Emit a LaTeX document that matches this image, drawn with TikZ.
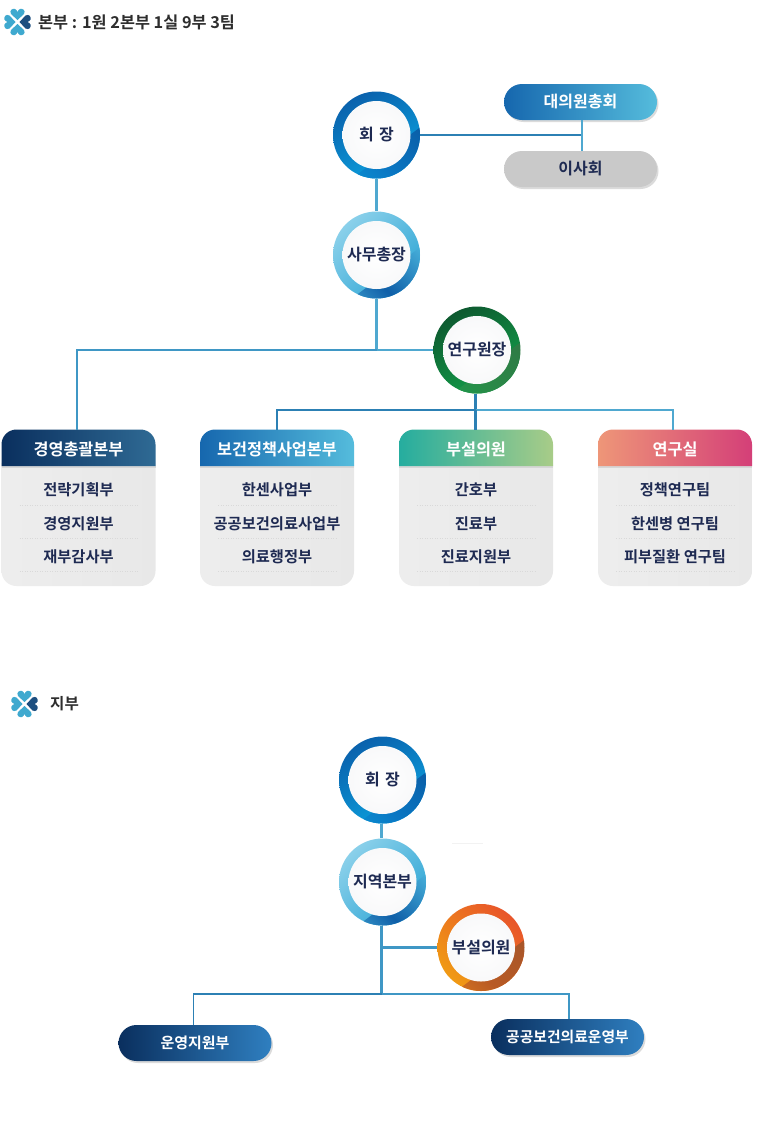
\documentclass[tikz,border=0pt]{standalone}
\usepackage{fontspec}
\setmainfont{Noto Sans CJK KR}
\newfontfamily\krb{Noto Sans CJK KR Bold}
\usetikzlibrary{shadows}
\definecolor{navy}{HTML}{1E2A52}
\definecolor{lnlight}{HTML}{4FA8D0}
\definecolor{lndark}{HTML}{2C80B4}
\definecolor{lnmid}{HTML}{3F97C5}
\definecolor{icl}{HTML}{3FA9CF}
\definecolor{icd}{HTML}{1D4F80}
\definecolor{bA}{HTML}{0A62AD}\definecolor{bB}{HTML}{0BA2DF}\definecolor{bC}{HTML}{0A5FA8}\definecolor{bM}{HTML}{0A78C4}\definecolor{bD}{HTML}{0B9CDA}
\definecolor{sA}{HTML}{8AD0EA}\definecolor{sB}{HTML}{2FA6D5}\definecolor{sC}{HTML}{45ADD8}\definecolor{sM}{HTML}{0F5FA8}\definecolor{sD}{HTML}{50B8DE}
\definecolor{gA}{HTML}{0E5A30}\definecolor{gB}{HTML}{12A04A}\definecolor{gC}{HTML}{2E7A45}\definecolor{gM}{HTML}{2A8A48}\definecolor{gD}{HTML}{12A04A}
\definecolor{oA}{HTML}{F09A14}\definecolor{oB}{HTML}{E8552A}\definecolor{oC}{HTML}{A8562A}\definecolor{oM}{HTML}{B85A24}\definecolor{oD}{HTML}{E8851C}
\definecolor{pA}{HTML}{1667AE}\definecolor{pB}{HTML}{55BCDC}
\definecolor{pG}{HTML}{C9C9C9}
\definecolor{nA}{HTML}{0A2F5E}\definecolor{nB}{HTML}{2F7FC0}\definecolor{nC}{HTML}{2F6A94}
\definecolor{tA}{HTML}{25AD9F}\definecolor{tB}{HTML}{A8CC88}
\definecolor{rA}{HTML}{EE9678}\definecolor{rB}{HTML}{D43F78}
\tikzset{
  x=1pt,y=-1pt,
  ring/.style n args={6}{circle,minimum size=87pt,inner sep=0pt,text=navy,
    font=\krb\fontsize{16}{16}\selectfont,
    path picture={
      \shade[left color=#1,right color=#2,shading angle=#3]
        (path picture bounding box.south west) rectangle (path picture bounding box.north east);
      \shade[left color=#4,right color=#5,middle color=#6,shading angle=315]
        ([xshift=60pt,yshift=20pt]path picture bounding box.center)
        -- ([xshift=60pt,yshift=-70pt]path picture bounding box.center)
        -- ([xshift=-60pt,yshift=-70pt]path picture bounding box.center) -- cycle;
      \shade[inner color=white,outer color=white!97!navy]
        (path picture bounding box.center) circle[radius=34pt];
    }},
  conn/.style={line width=2.1pt},
  pill/.style n args={2}{rounded corners=18pt,minimum width=153pt,minimum height=36pt,inner sep=0pt,
    left color=#1,right color=#2,
    drop shadow={shadow xshift=1.5pt,shadow yshift=-2pt,fill=black,opacity=.14},
    font=\krb\fontsize{16}{16}\selectfont},
  headtxt/.style={font=\krb\fontsize{16.3}{16.3}\selectfont,text=white},
  item/.style={font=\krb\fontsize{15.3}{15.3}\selectfont,text=navy},
  dotln/.style={dotted,line width=.5pt,draw=black!15},
  sect/.style={font=\krb\fontsize{16.3}{16.3}\selectfont,text=black!82,anchor=west,inner sep=0pt},
}
\newcommand{\dept}[9]{%
  \begin{scope}[shift={(#2,0)}]
    \shade[left color=black!7,right color=black!9,rounded corners=15pt] (0,450) rectangle (154,586);
    \fill[black!16] (0,466) rectangle (154,468);
    \shade[left color=#3,right color=#4] (0,466) [rounded corners=15pt] -- (0,429.5) -- (154,429.5) [sharp corners] -- (154,466) -- cycle;
    \node[headtxt] (#1h) at (77,449) {#5};
    \node[item] (#1a) at (77,489.5) {#6};
    \node[item] (#1b) at (77,524) {#7};
    \node[item] (#1c) at (77,556.5) {#8};
    \draw[dotln] (18,505) -- (136,505);
    \draw[dotln] (18,538) -- (136,538);
    \draw[dotln] (18,571) -- (136,571);
    \coordinate (#1t) at (#9,429.5);
  \end{scope}
}
\newcommand{\hearticon}[2]{%
  \begin{scope}[shift={(#1,#2)}]
    \foreach \a/\c in {0/icl,90/icl,180/icl,270/icd}{
      \fill[\c,rotate=\a] (0,-2) -- (-6.5,-8) .. controls (-8.5,-11.5) and (-5,-14) .. (-2.5,-13) .. controls (-1.4,-12.5) and (-.5,-11.5) .. (0,-10) .. controls (.5,-11.5) and (1.4,-12.5) .. (2.5,-13) .. controls (5,-14) and (8.5,-11.5) .. (6.5,-8) -- cycle;
    }
  \end{scope}
}
\begin{document}
\begin{tikzpicture}
\useasboundingbox (0,0) rectangle (760,1128);
\fill[white] (0,0) rectangle (760,1128);

\hearticon{17.5}{22}
\node[sect] (t1) at (38,22) {본부 : 1원 2본부 1실 9부 3팀};
\hearticon{24.5}{704}
\node[sect,font=\krb\fontsize{15.6}{15.6}\selectfont] (t2) at (50,704) {지부};

\coordinate (jr) at (582,135);
\coordinate (j1) at (376.5,350);
\coordinate (j2) at (77,350);
\coordinate (b0) at (475.5,410);
\coordinate (bl) at (277,410);
\coordinate (br) at (673,410);

\node[ring={bA}{bB}{30}{bC}{bD}{bM}] (hj) at (376.5,135) {회 \kern1.5pt 장};
\node[ring={sA}{sB}{45}{sC}{sD}{sM}] (sm) at (376.5,255) {사무총장};
\node[ring={gA}{gB}{30}{gC}{gD}{gM}] (yw) at (477,350) {연구원장};
\node[pill={pA}{pB},text=white] (dw) at (580.5,102) {대의원총회};
\node[pill={pG}{pG},text=navy] (is) at (580.5,169) {이사회};

\dept{a}{1.5}{nA}{nC}{경영총괄본부}{전략기획부}{경영지원부}{재부감사부}{75.5}
\dept{b}{200}{pA}{pB}{보건정책사업본부}{한센사업부}{공공보건의료사업부}{의료행정부}{77}
\dept{c}{399}{tA}{tB}{부설의원}{간호부}{진료부}{진료지원부}{76.5}
\dept{d}{598}{rA}{rB}{연구실}{정책연구팀}{한센병 연구팀}{피부질환 연구팀}{75}

\draw[conn,draw=lndark] (hj.east) -- (jr);
\draw[conn,draw=lnlight] (dw.south -| jr) -- (is.north -| jr);
\draw[conn,draw=lnlight] (hj.south) -- (sm.north);
\draw[conn,draw=lnlight] (sm.south) -- (j1);
\draw[conn,draw=lnlight] (yw.west) -- (j1);
\draw[conn,draw=lnmid] (j1) -- (j2) -- (at);
\draw[conn,draw=lndark] (yw.south -| b0) -- (b0);
\draw[conn,draw=lndark] (b0) -- (bl) -- (bt);
\draw[conn,draw=lnlight] (b0) -- (br) -- (dt);
\draw[conn,draw=lndark] (b0) -- (ct);

\coordinate (k1) at (381.5,947.5);
\coordinate (k2) at (381.5,994);
\coordinate (kl) at (193.5,994);
\coordinate (kr) at (569,994);
\node[ring={bA}{bB}{30}{bC}{bD}{bM}] (hj2) at (382.5,780) {회 \kern1.5pt 장};
\node[ring={sA}{sB}{45}{sC}{sD}{sM}] (jy) at (382.5,882) {지역본부};
\node[ring={oA}{oB}{135}{oC}{oD}{oM}] (bs) at (481,947.5) {부설의원};
\node[pill={nA}{nB},text=white,font=\krb\fontsize{15}{15}\selectfont] (un) at (195,1043) {운영지원부};
\node[pill={nA}{nB},text=white,font=\krb\fontsize{14.8}{14.8}\selectfont] (gg) at (567.5,1037) {공공보건의료운영부};
\draw[conn,draw=lnlight] (hj2.south -| k1) -- (jy.north -| k1);
\draw[conn,draw=lnmid] (jy.south -| k1) -- (k2);
\draw[conn,draw=lnmid] (k1) -- (bs.west);
\draw[conn,line width=1.6pt,draw=lndark] (k2) -- (kl) -- (un.north -| kl);
\draw[conn,line width=1.6pt,draw=lnmid] (k2) -- (kr) -- (gg.north -| kr);
\draw[black!5,line width=.5pt] (452,843) -- (483,843);
\end{tikzpicture}
\end{document}
